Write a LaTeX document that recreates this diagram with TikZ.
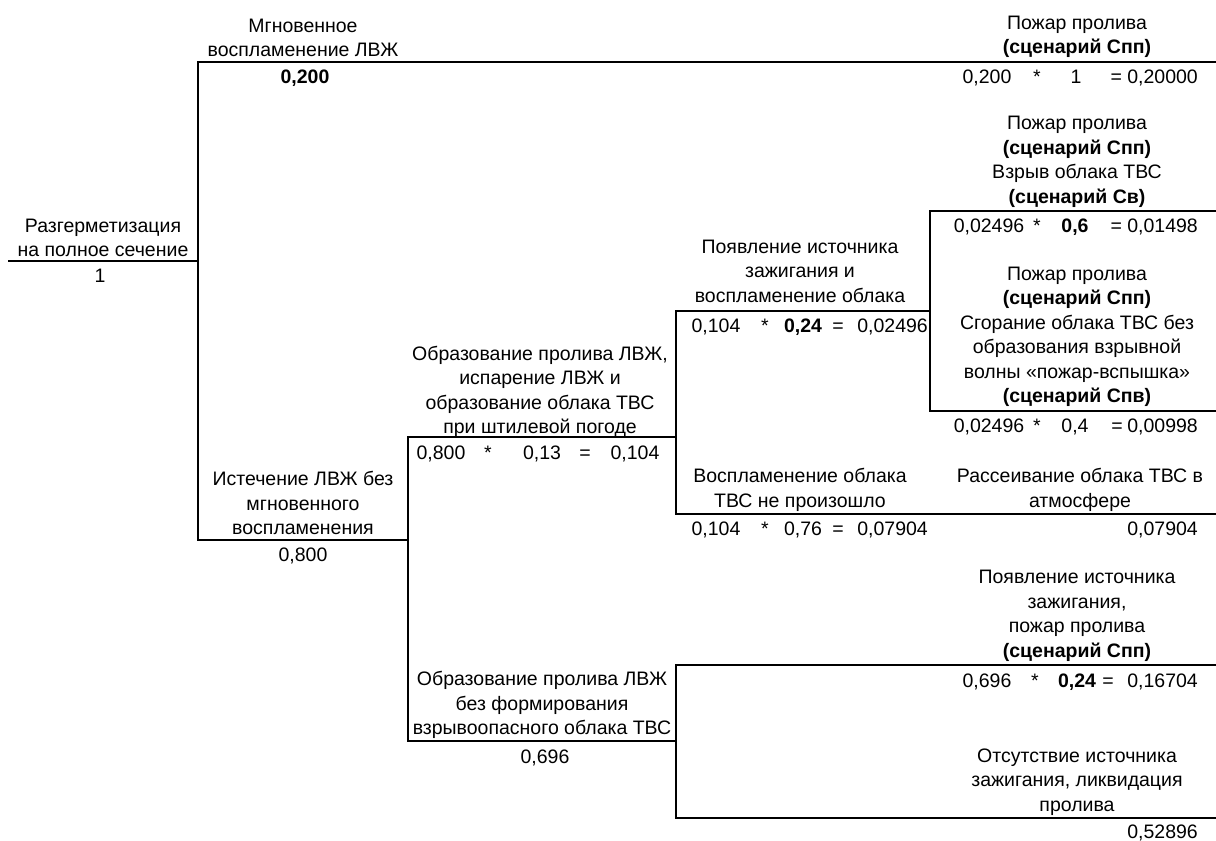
\documentclass[tikz,border=0pt]{standalone}
\usepackage{fontspec}
\setmainfont{Liberation Sans}
\begin{document}
\begin{tikzpicture}[x=1pt,y=-1pt,
  ln/.style={line width=2.1pt, line join=miter},
  txt/.style={font=\fontsize{19.5}{24.5}\selectfont, align=center, inner sep=0pt},
  num/.style={font=\fontsize{19.5}{24.5}\selectfont, inner sep=0pt, anchor=base},
  numr/.style={num, anchor=base east}]
\useasboundingbox (0,0) rectangle (1216,841);
% junction coordinates
\coordinate (rootL) at (8,261);
\coordinate (rootR) at (198,261);
\coordinate (aTop) at (198,62);
\coordinate (aBot) at (198,540);
\coordinate (aEnd) at (1216,62);
\coordinate (bMid) at (408,540);
\coordinate (bTop) at (408,437);
\coordinate (bBot) at (408,741);
\coordinate (fEnd) at (676,437);
\coordinate (gEnd) at (676,741);
\coordinate (cTop) at (676,311);
\coordinate (cBot) at (676,514);
\coordinate (cEnd) at (1216,514);
\coordinate (dMid) at (930,311);
\coordinate (kTop) at (930,211);
\coordinate (kBot) at (930,411);
\coordinate (kEndT) at (1216,211);
\coordinate (kEndB) at (1216,411);
\coordinate (nTop) at (676,665);
\coordinate (nBot) at (676,818);
\coordinate (nEndT) at (1216,665);
\coordinate (nEndB) at (1216,818);
% lines
\draw[ln] (rootL) -- (rootR);
\draw[ln] (aEnd) -- (aTop) -- (aBot) -- (bMid);
\draw[ln] (fEnd) -- (bTop) -- (bBot) -- (gEnd);
\draw[ln] (dMid) -- (cTop) -- (cBot) -- (cEnd);
\draw[ln] (kEndT) -- (kTop) -- (kBot) -- (kEndB);
\draw[ln] (nEndT) -- (nTop) -- (nBot) -- (nEndB);
% root
\node[txt] (root) at (103,238) {Разгерметизация\\на полное сечение};
\node[num] (rootp) at (100,282) {1};
% instant ignition
\node[txt] (inst) at (303,38) {Мгновенное\\воспламенение ЛВЖ};
\node[num] (instp) at (305,83) {\bfseries 0,200};
\node[txt] (s1) at (1077,37) {Пожар пролива\\\bfseries(сценарий Спп)};
\node[num] (s1a) at (987,83) {0,200};
\node[num] (s1b) at (1037,83) {*};
\node[num] (s1c) at (1076,83) {1};
\node[numr] (s1d) at (1198,83) {= 0,20000};
% explosion
\node[txt] (s2) at (1077,162) {Пожар пролива\\\textbf{(сценарий Спп)}\\Взрыв облака ТВС\\\textbf{(сценарий Св)}};
\node[num] (s2a) at (989,232) {0,02496};
\node[num] (s2b) at (1037,232) {*};
\node[num] (s2c) at (1075,232) {\bfseries 0,6};
\node[numr] (s2d) at (1198,232) {= 0,01498};
% flash fire
\node[txt] (s3) at (1077,337) {Пожар пролива\\\textbf{(сценарий Спп)}\\Сгорание облака ТВС без\\образования взрывной\\волны «пожар-вспышка»\\\textbf{(сценарий Спв)}};
\node[num] (s3a) at (989,432) {0,02496};
\node[num] (s3b) at (1037,432) {*};
\node[num] (s3c) at (1075,432) {0,4};
\node[num] (s3d) at (1117,432) {=};
\node[numr] (s3e) at (1198,432) {0,00998};
% cloud ignition
\node[txt] (ci) at (800,271) {Появление источника\\зажигания и\\воспламенение облака};
\node[num] (cia) at (716,332) {0,104};
\node[num] (cib) at (765,332) {*};
\node[num] (cic) at (803,332) {\bfseries 0,24};
\node[num] (cid) at (838,332) {=};
\node[numr] (cie) at (928,332) {0,02496};
% no ignition
\node[txt] (ni) at (800,490) {Воспламенение облака\\ТВС не произошло};
\node[num] (nia) at (716,535) {0,104};
\node[num] (nib) at (765,535) {*};
\node[num] (nic) at (803,535) {0,76};
\node[num] (nid) at (838,535) {=};
\node[numr] (nie) at (928,535) {0,07904};
\node[txt] (disp) at (1080,490) {Рассеивание облака ТВС в\\атмосфере};
\node[numr] (dispp) at (1198,535) {0,07904};
% spill with cloud
\node[txt] (sc) at (540,392) {Образование пролива ЛВЖ,\\испарение ЛВЖ и\\образование облака ТВС\\при штилевой погоде};
\node[num] (sca) at (441,459) {0,800};
\node[num] (scb) at (488,459) {*};
\node[num] (scc) at (542,459) {0,13};
\node[num] (scd) at (585,459) {=};
\node[num] (sce) at (635,459) {0,104};
% leak
\node[txt] (lk) at (303,503) {Истечение ЛВЖ без\\мгновенного\\воспламенения};
\node[num] (lkp) at (303,561) {0,800};
% spill without cloud
\node[txt] (sn) at (542,705) {Образование пролива ЛВЖ\\без формирования\\взрывоопасного облака ТВС};
\node[num] (snp) at (545,763) {0,696};
\node[txt] (pf) at (1077,616) {Появление источника\\зажигания,\\пожар пролива\\\textbf{(сценарий Спп)}};
\node[num] (pfa) at (987,687) {0,696};
\node[num] (pfb) at (1035,687) {*};
\node[num] (pfc) at (1077,687) {\bfseries 0,24};
\node[num] (pfd) at (1108,687) {=};
\node[numr] (pfe) at (1198,687) {0,16704};
\node[txt] (ab) at (1077,782) {Отсутствие источника\\зажигания, ликвидация\\пролива};
\node[numr] (abp) at (1198,838) {0,52896};
\end{tikzpicture}
\end{document}
